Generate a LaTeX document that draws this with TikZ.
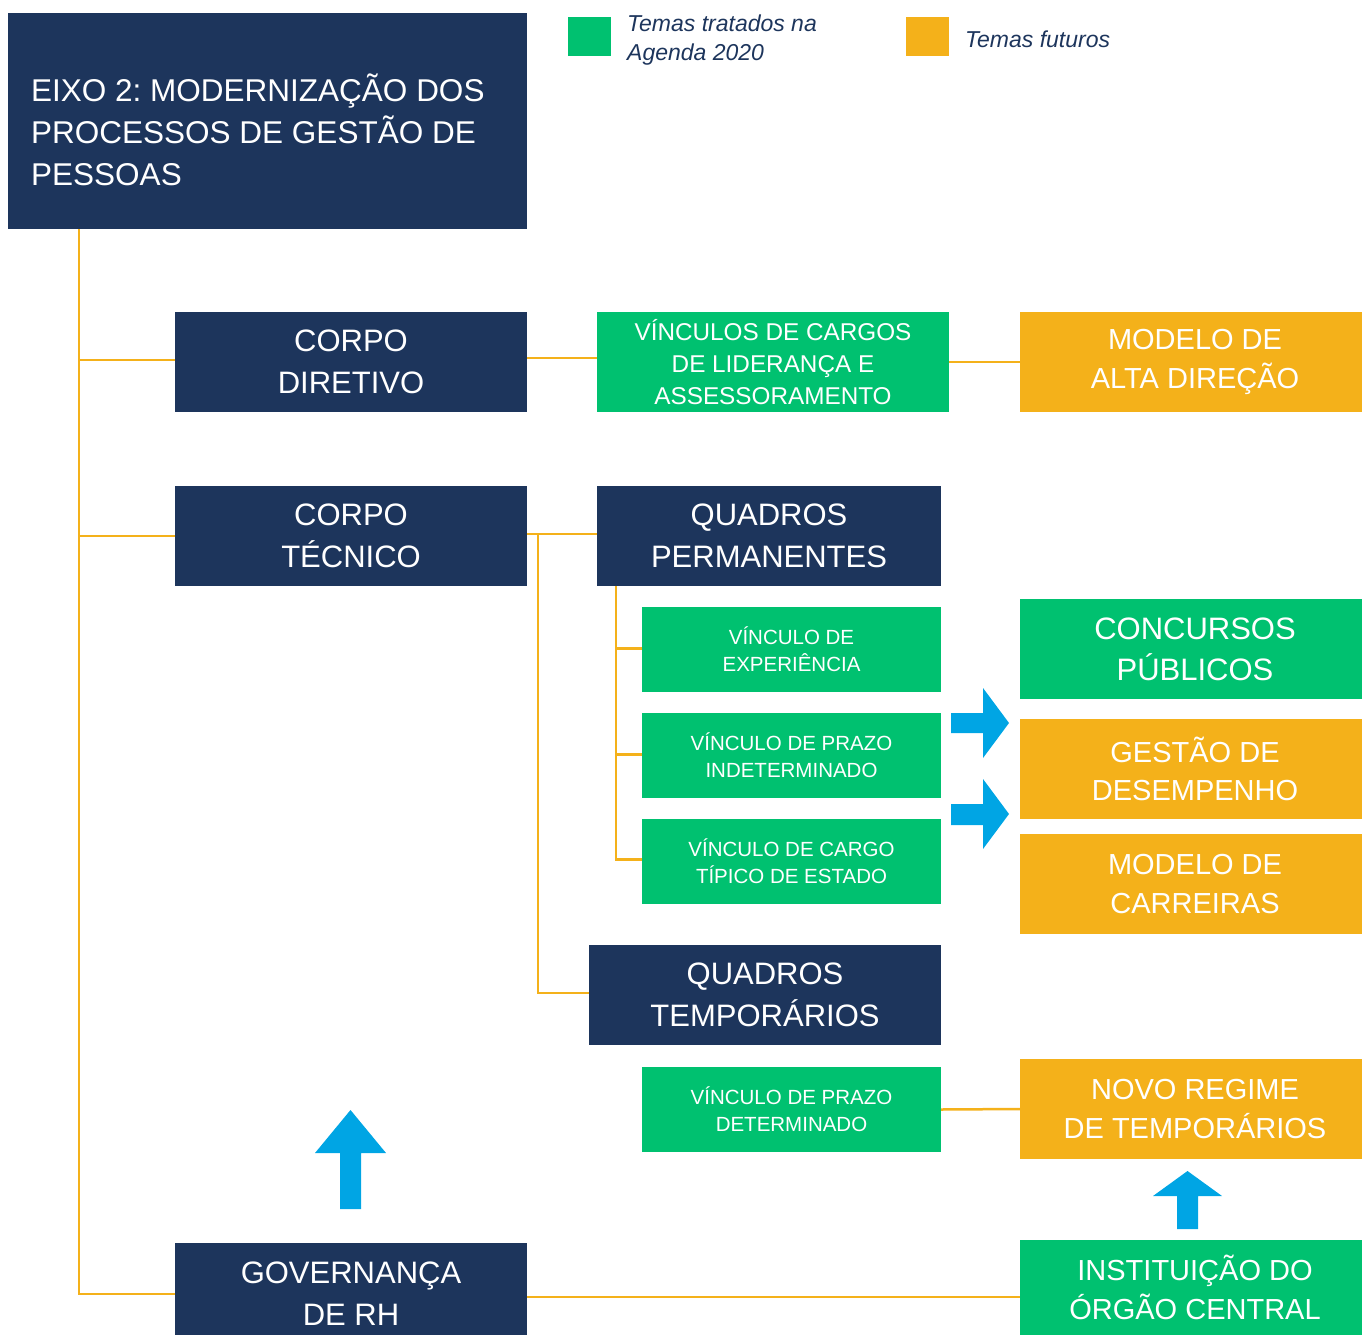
\documentclass[tikz,border=0pt]{standalone}
\usepackage{fontspec}
\setmainfont{Liberation Sans}
\frenchspacing
\definecolor{navyc}{HTML}{1D355C}
\definecolor{greenc}{HTML}{00C170}
\definecolor{orangec}{HTML}{F4B11A}
\definecolor{bluec}{HTML}{00A5E4}
\begin{document}
\begin{tikzpicture}[x=1pt,y=-1pt,
  base/.style={rectangle, inner sep=0pt, outer sep=0pt, align=center, text=white},
  navybox/.style={base, fill=navyc},
  greenbox/.style={base, fill=greenc},
  orangebox/.style={base, fill=orangec},
  sz/.style 2 args={minimum width=#1pt, minimum height=#2pt},
  link/.style={draw=orangec, line width=2.5pt},
  bigfont/.style={font=\fontsize{31}{42}\selectfont},
  midfont/.style={font=\fontsize{24.3}{32}\selectfont},
  smallfont/.style={font=\fontsize{20.5}{27}\selectfont},
  orfont/.style={font=\fontsize{29}{38.5}\selectfont},
  legfont/.style={font=\fontsize{23}{29}\selectfont\itshape, text=navyc, align=left, anchor=west, inner sep=0pt},
  blockarrow/.style={fill=bluec, draw=none}
]
\useasboundingbox (0,0) rectangle (1362,1335);

% legend
\node[fill=greenc, sz={43}{39}, inner sep=0pt] (lg1) at (589.5,36.5) {};
\node[legfont] (lt1) at (627,40) {Temas tratados na\\Agenda 2020};
\node[fill=orangec, sz={43}{39}, inner sep=0pt] (lg2) at (927.5,36.5) {};
\node[legfont] (lt2) at (965,39) {Temas futuros};

% title
\node[navybox, sz={519}{216}] (title) at (267.5,121) {};
\node[font=\fontsize{31.5}{42}\selectfont, text=white, align=left, anchor=west, inner sep=0pt] (titletxt) at (31,130)
  {EIXO 2: MODERNIZAÇÃO DOS\\PROCESSOS DE GESTÃO DE\\PESSOAS};

% navy boxes
\node[navybox, bigfont, sz={352}{100}] (cd) at (351,362) {CORPO\\DIRETIVO};
\node[navybox, bigfont, sz={352}{100}] (ct) at (351,536) {CORPO\\TÉCNICO};
\node[navybox, bigfont, sz={344}{100}] (qp) at (769,536) {QUADROS\\PERMANENTES};
\node[navybox, bigfont, sz={352}{100}] (qt) at (765,995) {QUADROS\\TEMPORÁRIOS};
\node[navybox, bigfont, sz={352}{102}] (gov) at (351,1294) {GOVERNANÇA\\DE RH};

% green boxes
\node[greenbox, midfont, sz={352}{100}] (vc) at (773,362) {VÍNCULOS DE CARGOS\\DE LIDERANÇA E\\ASSESSORAMENTO};
\node[greenbox, smallfont, sz={299}{85}] (v1) at (791.5,649.5) {VÍNCULO DE\\EXPERIÊNCIA};
\node[greenbox, smallfont, sz={299}{85}] (v2) at (791.5,755.5) {VÍNCULO DE PRAZO\\INDETERMINADO};
\node[greenbox, smallfont, sz={299}{85}] (v3) at (791.5,861.5) {VÍNCULO DE CARGO\\TÍPICO DE ESTADO};
\node[greenbox, smallfont, sz={299}{85}] (v4) at (791.5,1109.5) {VÍNCULO DE PRAZO\\DETERMINADO};
\node[greenbox, font=\fontsize{31}{41}\selectfont, sz={350}{100}] (cp) at (1195,649) {CONCURSOS\\PÚBLICOS};
\node[greenbox, orfont, sz={350}{95}] (inst) at (1195,1287.5) {INSTITUIÇÃO DO\\ÓRGÃO CENTRAL};

% orange boxes
\node[orangebox, orfont, sz={350}{100}] (mad) at (1195,362) {MODELO DE\\ALTA DIREÇÃO};
\node[orangebox, orfont, sz={350}{100}] (gd) at (1195,769) {GESTÃO DE\\DESEMPENHO};
\node[orangebox, orfont, sz={350}{100}] (mc) at (1195,884) {MODELO DE\\CARREIRAS};
\node[orangebox, orfont, sz={350}{100}] (nr) at (1195,1109) {NOVO REGIME\\DE TEMPORÁRIOS};

% connectors
\draw[link] ([xshift=71pt]title.south west) |- (gov.west);
\draw[link] ([yshift=2pt]cd.west) -- ++(-96,0);
\draw[link] (ct.west) -- ++(-96,0);
\draw[link] ([yshift=4pt]cd.east) -- ([yshift=4pt]vc.west);
\draw[link] (vc.east) -- (mad.west);
\draw[link] ([yshift=2pt]ct.east) -- ([yshift=2pt]qp.west);
\draw[link] ([xshift=11pt,yshift=2pt]ct.east) |- ([yshift=2pt]qt.west);
\draw[link] ([xshift=19pt]qp.south west) |- ([yshift=2pt]v3.west);
\draw[link] ([yshift=1pt]v1.west) -- ++(-26,0);
\draw[link] ([yshift=1pt]v2.west) -- ++(-26,0);
\draw[link] (v4.east) -- (nr.west);
\draw[link] ([yshift=-3pt]gov.east) -- ([yshift=-3pt]gov.east -| inst.west);

% blue block arrows
\fill[blockarrow] (951,713) -- (983,713) -- (983,688) -- (1009,723) -- (983,758) -- (983,733) -- (951,733) -- cycle;
\fill[blockarrow] (951,804) -- (983,804) -- (983,779) -- (1009,814) -- (983,849) -- (983,825) -- (951,825) -- cycle;
\fill[blockarrow] (340,1209) -- (340,1153) -- (315,1153) -- (350.5,1110) -- (386,1153) -- (361,1153) -- (361,1209) -- cycle;
\fill[blockarrow] (1177,1229) -- (1177,1196) -- (1153,1196) -- (1187.5,1171) -- (1222,1196) -- (1198,1196) -- (1198,1229) -- cycle;
\end{tikzpicture}
\end{document}
